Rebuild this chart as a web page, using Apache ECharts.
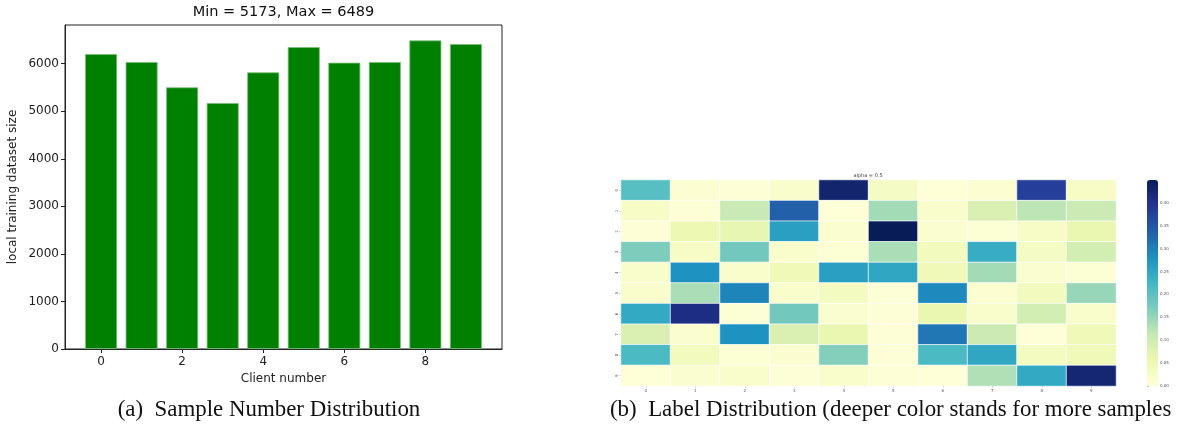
<!DOCTYPE html>
<html>
<head>
<meta charset="utf-8">
<script src="https://cdn.jsdelivr.net/npm/echarts@6/dist/echarts.min.js"></script>
<style>
html,body{margin:0;padding:0;background:#fff;}
#c{width:1180px;height:430px;}
</style>
</head>
<body>
<div id="c"></div>
<script>
// ---- Data ----
const clients = [0, 1, 2, 3, 4, 5, 6, 7, 8, 9];
const sampleSizes = [6203, 6035, 5503, 5173, 5818, 6350, 6021, 6035, 6489, 6413];
const barXTicks = [0, 2, 4, 6, 8];
const barYTicks = [0, 1000, 2000, 3000, 4000, 5000, 6000];
const heatCols = ['0', '1', '2', '3', '4', '5', '6', '7', '8', '9'];
const heatRows = ['0', '1', '2', '3', '4', '5', '6', '7', '8', '9'];
const labelDist = [
  [0.205, 0.010, 0.005, 0.020, 0.430, 0.030, 0.003, 0.010, 0.380, 0.025],
  [0.025, 0.005, 0.110, 0.335, 0.004, 0.140, 0.020, 0.085, 0.120, 0.105],
  [0.005, 0.055, 0.065, 0.260, 0.015, 0.450, 0.015, 0.008, 0.025, 0.060],
  [0.170, 0.025, 0.180, 0.020, 0.008, 0.135, 0.040, 0.240, 0.030, 0.095],
  [0.018, 0.280, 0.020, 0.045, 0.260, 0.250, 0.045, 0.140, 0.015, 0.008],
  [0.020, 0.135, 0.295, 0.020, 0.035, 0.005, 0.290, 0.010, 0.040, 0.150],
  [0.245, 0.410, 0.008, 0.180, 0.015, 0.005, 0.060, 0.020, 0.095, 0.018],
  [0.085, 0.015, 0.280, 0.085, 0.060, 0.006, 0.310, 0.105, 0.004, 0.045],
  [0.215, 0.040, 0.008, 0.013, 0.165, 0.005, 0.215, 0.250, 0.035, 0.045],
  [0.004, 0.015, 0.020, 0.006, 0.018, 0.005, 0.004, 0.130, 0.245, 0.425]
];
const colorbarTicks = [0, 0.05, 0.10, 0.15, 0.20, 0.25, 0.30, 0.35, 0.40];
const colorMax = 0.45;
const ylgnbu = ['#ffffd9', '#edf8b1', '#c7e9b4', '#7fcdbb', '#41b6c4', '#1d91c0', '#225ea8', '#253494', '#081d58'];

// ---- Build ----
const barData = clients.map((c, i) => [c, sampleSizes[i]]);
const heatData = [];
labelDist.forEach((row, r) => row.forEach((v, c) => heatData.push([c, r, v])));
const minV = Math.min(...sampleSizes), maxV = Math.max(...sampleSizes);

const FONT = 'DejaVu Sans';
const chart = echarts.init(document.getElementById('c'), null, {renderer: 'canvas'});
chart.setOption({
  animation: false,
  textStyle: {fontFamily: FONT},
  grid: [
    {left: 65, top: 25, width: 437, height: 324, show: true, borderColor: '#222', borderWidth: 1, backgroundColor: 'transparent'},
    {left: 621, top: 180, width: 495, height: 206, show: false},
    {left: 1147, top: 180, width: 11, height: 206, show: false}
  ],
  xAxis: [
    {gridIndex: 0, type: 'value', min: -0.89, max: 9.89,
      splitLine: {show: false},
      axisLine: {show: true, onZero: false, lineStyle: {color: '#222', width: 1}},
      axisTick: {show: true, inside: false, length: 4, lineStyle: {color: '#222'}, customValues: barXTicks},
      axisLabel: {fontSize: 12, color: '#222', margin: 7, fontFamily: FONT, customValues: barXTicks,
        formatter: v => String(v)},
      name: 'Client number', nameLocation: 'middle', nameGap: 24,
      nameTextStyle: {fontSize: 12, color: '#222', fontFamily: FONT}},
    {gridIndex: 1, type: 'category', data: heatCols,
      axisLine: {show: false},
      axisTick: {show: true, alignWithLabel: true, length: 1.5, lineStyle: {color: '#666', width: 0.5}},
      axisLabel: {fontSize: 4, color: '#555', margin: 3, fontFamily: FONT},
      splitLine: {show: false}},
    {gridIndex: 2, type: 'value', show: false, min: 0, max: 1}
  ],
  yAxis: [
    {gridIndex: 0, type: 'value', min: 0, max: 6814,
      splitLine: {show: false},
      axisLine: {show: true, onZero: false, lineStyle: {color: '#222', width: 1}},
      axisTick: {show: true, inside: false, length: 4, lineStyle: {color: '#222'}, customValues: barYTicks},
      axisLabel: {fontSize: 12, color: '#222', margin: 6, fontFamily: FONT, customValues: barYTicks,
        formatter: v => String(v)},
      name: 'local training dataset size', nameLocation: 'middle', nameGap: 46, nameRotate: 90,
      nameTextStyle: {fontSize: 12, color: '#222', fontFamily: FONT}},
    {gridIndex: 1, type: 'category', data: heatRows, inverse: true,
      axisLine: {show: false},
      axisTick: {show: true, alignWithLabel: true, length: 1.5, lineStyle: {color: '#666', width: 0.5}},
      axisLabel: {fontSize: 4, color: '#555', margin: 2, rotate: 90, fontFamily: FONT},
      splitLine: {show: false}},
    {gridIndex: 2, type: 'value', position: 'right', min: 0, max: colorMax,
      axisLine: {show: false},
      splitLine: {show: false},
      axisTick: {show: true, length: 1.5, lineStyle: {color: '#666', width: 0.5}, customValues: colorbarTicks},
      axisLabel: {fontSize: 4, color: '#555', margin: 2, fontFamily: FONT, customValues: colorbarTicks,
        formatter: v => Number(v).toFixed(2)}}
  ],
  visualMap: {
    type: 'continuous', seriesIndex: 1, dimension: 2,
    min: 0, max: colorMax, calculable: false, orient: 'vertical',
    left: 1147, top: 180, itemWidth: 11, itemHeight: 206, padding: 0,
    inRange: {color: ylgnbu}, text: null, showLabel: false
  },
  graphic: [
    {type: 'text', x: 283.5, y: 12, style: {text: 'Min = ' + minV + ', Max = ' + maxV, font: '14.5px "DejaVu Sans"', fill: '#111', textAlign: 'center', textVerticalAlign: 'middle'}},
    {type: 'text', x: 868, y: 175.5, style: {text: 'alpha = 0.5', font: '5px "DejaVu Sans"', fill: '#444', textAlign: 'center', textVerticalAlign: 'middle'}},
    {type: 'text', x: 269, y: 410, style: {text: '(a)\u00a0 Sample Number Distribution', font: '22.9px "Liberation Serif"', fill: '#111', textAlign: 'center', textVerticalAlign: 'middle'}},
    {type: 'text', x: 610, y: 410, style: {text: '(b)\u00a0 Label Distribution (deeper color stands for more samples', font: '22.9px "Liberation Serif"', fill: '#111', textAlign: 'left', textVerticalAlign: 'middle'}}
  ],
  series: [
    {type: 'bar', xAxisIndex: 0, yAxisIndex: 0, data: barData, barWidth: 32,
      itemStyle: {color: '#008000', borderColor: '#7cbf7c', borderWidth: 0.8}},
    {type: 'heatmap', xAxisIndex: 1, yAxisIndex: 1, data: heatData,
      itemStyle: {borderColor: '#ffffff', borderWidth: 0.7}}
  ]
});
</script>
</body>
</html>
